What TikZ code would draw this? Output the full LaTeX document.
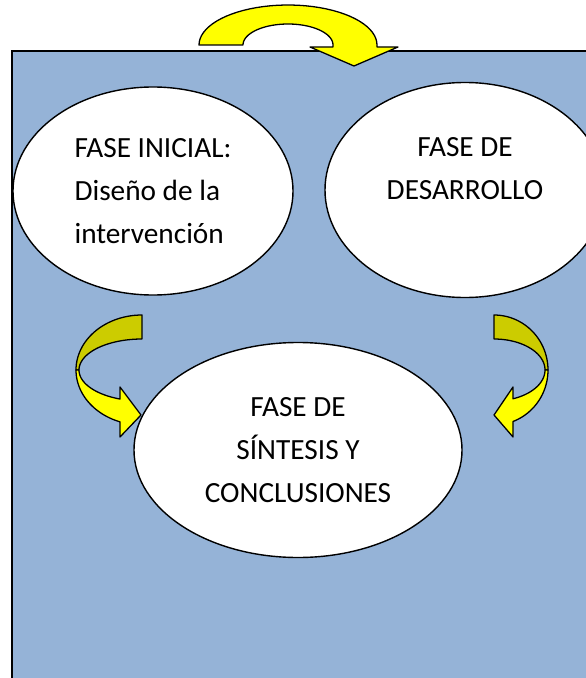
\documentclass[tikz,border=0pt]{standalone}
\usepackage{fontspec}
\setmainfont{Carlito}
\usepackage{tikz}
\usetikzlibrary{shapes.geometric}

\definecolor{panelblue}{HTML}{95B3D7}
\definecolor{arrowyellow}{HTML}{FFFF00}
\definecolor{arrowback}{HTML}{CCCC00}

\begin{document}
\begin{tikzpicture}[
  x=0.03cm, y=-0.03cm,
  phase/.style={ellipse, draw, line width=1.2pt, fill=white, inner sep=0pt, align=center, font=\fontsize{25}{36.5}\selectfont},
  bandfront/.style={draw, line width=1.1pt, line join=round, fill=arrowyellow},
  bandback/.style={draw, line width=1.1pt, line join=round, fill=arrowback}
]
\useasboundingbox (0,0) rectangle (585,678);

% Panel
\draw[fill=panelblue, line width=2pt] (12,51) rectangle (640,720);

% Phases
\node[phase, align=left, minimum width=8.4cm, minimum height=6.24cm] (inicial) at (153,191) {FASE INICIAL:\\Diseño de la\\intervención};
\node[phase, minimum width=8.4cm, minimum height=6.45cm] (desarrollo) at (465,190) {FASE DE\\DESARROLLO\\\mbox{}};
\node[phase, minimum width=9.84cm, minimum height=6.45cm] (sintesis) at (298,450) {FASE DE\\SÍNTESIS Y\\CONCLUSIONES};

% Top arrow
\draw[bandfront] (199,45) -- plot[domain=180:360, samples=40] ({288+89*cos(\x)}, {45+40*sin(\x)})
  -- (377,47) -- (398,47) -- (354,66) -- (310,47) -- (333,47)
  -- plot[domain=360:180, samples=40] ({288+45*cos(\x)}, {45+21*sin(\x)}) -- cycle;

% Left arrow
\draw[bandback] plot[domain=270:180, samples=30] ({142+66*cos(\x)}, {370+55*sin(\x)})
  -- plot[domain=180:270, samples=30] ({142+63*cos(\x)}, {370+31*sin(\x)}) -- cycle;
\draw[bandfront] plot[domain=180:109.5, samples=30] ({142+66*cos(\x)}, {370+55*sin(\x)})
  -- (120,437) -- (141,415) -- (120,387)
  -- plot[domain=110.4:180, samples=30] ({142+63*cos(\x)}, {370+31*sin(\x)}) -- cycle;

% Right arrow
\draw[bandback] plot[domain=270:360, samples=30] ({494+54*cos(\x)}, {370+55*sin(\x)})
  -- plot[domain=360:270, samples=30] ({494+51*cos(\x)}, {370+31*sin(\x)}) -- cycle;
\draw[bandfront] plot[domain=0:69.4, samples=30] ({494+54*cos(\x)}, {370+55*sin(\x)})
  -- (513,437) -- (494,415) -- (513,387)
  -- plot[domain=68.1:0, samples=30] ({494+51*cos(\x)}, {370+31*sin(\x)}) -- cycle;

\end{tikzpicture}
\end{document}
